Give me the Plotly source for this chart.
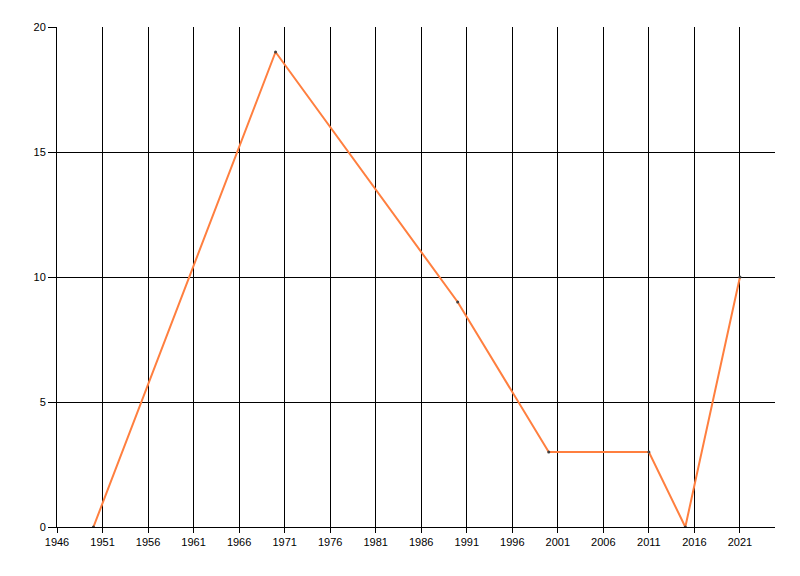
"""Line chart: yearly counts, recreated with Plotly."""

import plotly.graph_objects as go

years = [1950, 1970, 1990, 2000, 2011, 2015, 2021]
counts = [0, 19, 9, 3, 3, 0, 10]

x_ticks = list(range(1946, 2022, 5))
y_ticks = [0, 5, 10, 15, 20]

fig = go.Figure()
fig.add_trace(
    go.Scatter(
        x=years,
        y=counts,
        mode="lines+markers",
        line=dict(color="#FF7F3F", width=2),
        marker=dict(color="#404040", size=3),
        showlegend=False,
        hoverinfo="x+y",
    )
)

axis_font = dict(family="Liberation Sans, Arial, sans-serif", size=11, color="#000000")

# the page body adds an 8px offset, so margins are shifted to compensate
fig.update_layout(
    width=800,
    height=576,
    paper_bgcolor="#FFFFFF",
    plot_bgcolor="#FFFFFF",
    margin=dict(l=49, r=33, t=19, b=57),
    font=axis_font,
)
fig.update_xaxes(
    range=[1946, 2024.85],
    tickmode="array",
    tickvals=x_ticks,
    ticktext=[str(v) for v in x_ticks],
    showgrid=True,
    gridcolor="#000000",
    gridwidth=1,
    showline=True,
    linecolor="#000000",
    linewidth=1,
    zeroline=False,
    ticks="outside",
    ticklen=5,
    tickcolor="#000000",
    tickfont=axis_font,
)
fig.update_yaxes(
    range=[0, 20],
    tickmode="array",
    tickvals=y_ticks,
    showgrid=True,
    gridcolor="#000000",
    gridwidth=1,
    showline=True,
    linecolor="#000000",
    linewidth=1,
    zeroline=False,
    ticks="outside",
    ticklen=8,
    tickcolor="#000000",
    tickfont=axis_font,
)

fig.write_html("out.html")
